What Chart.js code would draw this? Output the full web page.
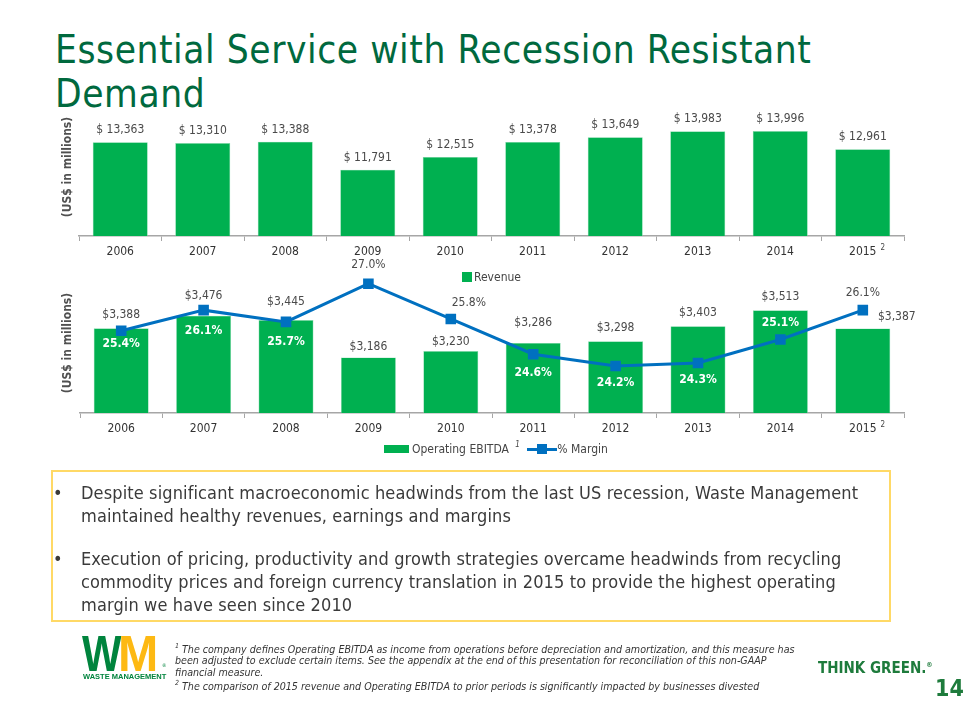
<!DOCTYPE html>
<html>
<head>
<meta charset="utf-8">
<script src="https://cdn.jsdelivr.net/npm/chart.js@4.4.1/dist/chart.umd.min.js"></script>
<style>
  html,body{margin:0;padding:0;background:#fff;}
  body{width:976px;height:711px;position:relative;overflow:hidden;font-family:"DejaVu Sans Condensed","DejaVu Sans",sans-serif;}
  canvas.c{position:absolute;left:0;top:0;}
  .title{position:absolute;left:55px;top:28px;color:#00693E;font-size:38.5px;letter-spacing:0.55px;line-height:44px;white-space:nowrap;}
  .ytitle{position:absolute;font-size:12px;font-weight:bold;color:#505050;white-space:nowrap;transform:translate(-50%,-50%) rotate(-90deg);}
  .leg{position:absolute;font-size:12px;color:#444;white-space:nowrap;}
  .box{position:absolute;left:51px;top:470px;width:836px;height:148px;border:2px solid #FFD966;}
  .bul{position:absolute;font-size:18px;letter-spacing:0.12px;color:#3a3a3a;line-height:23px;white-space:nowrap;}
  .foot{position:absolute;left:175px;top:641px;font-size:10.6px;font-style:italic;color:#333;line-height:11.5px;width:632px;}
</style>
</head>
<body>
<div class="title">Essential Service with Recession Resistant<br>Demand</div>

<canvas class="c" id="top" width="976" height="711"></canvas>
<canvas class="c" id="bot" width="976" height="711"></canvas>

<div class="ytitle" style="left:67px;top:167px;">(US$ in millions)</div>
<div class="ytitle" style="left:67px;top:343px;">(US$ in millions)</div>

<div class="leg" style="left:462px;top:270px;"><span style="display:inline-block;width:10px;height:10px;background:#00B050;vertical-align:-1px;margin-right:2px;"></span>Revenue</div>
<div class="leg" style="left:384px;top:440px;"><span style="display:inline-block;width:25px;height:8px;background:#00B050;vertical-align:0px;margin-right:3px;"></span>Operating EBITDA <sup style="font-size:8px;font-style:italic;vertical-align:6px;margin-left:3px;">1</sup>
<span style="display:inline-block;position:relative;width:30px;height:10px;vertical-align:-1px;margin-left:4px;"><span style="position:absolute;left:0;top:4px;width:30px;height:3px;background:#0070C0;"></span><span style="position:absolute;left:10px;top:0;width:10px;height:10px;background:#0070C0;"></span></span>% Margin</div>

<div class="box"></div>
<div class="bul" style="left:53px;top:481px;">•</div>
<div class="bul" style="left:81px;top:481px;">Despite significant macroeconomic headwinds from the last US recession, Waste Management<br>maintained healthy revenues, earnings and margins</div>
<div class="bul" style="left:53px;top:547px;">•</div>
<div class="bul" style="left:81px;top:547px;">Execution of pricing, productivity and growth strategies overcame headwinds from recycling<br>commodity prices and foreign currency translation in 2015 to provide the highest operating<br>margin we have seen since 2010</div>

<div style="position:absolute;left:82px;top:626px;width:84px;height:45px;">
  <span style="position:absolute;left:0;top:0;font-family:'Liberation Sans',sans-serif;font-weight:bold;font-size:44px;line-height:50px;color:#00843D;letter-spacing:-3px;transform:scale(0.95,1.12);transform-origin:left top;">W</span>
  <span style="position:absolute;left:36px;top:0;font-family:'Liberation Sans',sans-serif;font-weight:bold;font-size:44px;line-height:50px;color:#FDB913;transform:scale(1.1,1.12);transform-origin:left top;">M</span>
  <span style="position:absolute;left:80px;top:36px;font-size:5px;color:#00843D;">®</span>
</div>
<div style="position:absolute;left:83px;top:672px;font-family:'Liberation Sans',sans-serif;font-weight:bold;font-size:7.5px;color:#00843D;white-space:nowrap;">WASTE MANAGEMENT</div>

<div class="foot"><sup style="font-size:7px;">1</sup> The company defines Operating EBITDA as income from operations before depreciation and amortization, and this measure has been adjusted to exclude certain items. See the appendix at the end of this presentation for reconciliation of this non-GAAP financial measure.<br><sup style="font-size:7px;">2</sup> The comparison of 2015 revenue and Operating EBITDA to prior periods is significantly impacted by businesses divested</div>

<div style="position:absolute;left:818px;top:659px;font-family:'DejaVu Sans Condensed',sans-serif;font-weight:bold;font-size:15px;color:#1E7B3C;white-space:nowrap;">THINK GREEN.<sup style="font-size:7px;">®</sup></div>
<div style="position:absolute;left:935px;top:675px;font-family:'DejaVu Sans Condensed',sans-serif;font-weight:bold;font-size:23px;color:#1E7B3C;">14</div>

<script>
// ---- data ----
const years = ['2006','2007','2008','2009','2010','2011','2012','2013','2014','2015'];
const revenue = [13363,13310,13388,11791,12515,13378,13649,13983,13996,12961];
const ebitda  = [3388,3476,3445,3186,3230,3286,3298,3403,3513,3387];
const margin  = [25.4,26.1,25.7,27.0,25.8,24.6,24.2,24.3,25.1,26.1];
const footnoteTick = 9; // index of category with superscript 2

const GREEN = '#00B050', BLUE = '#0070C0';
const FONT = '"DejaVu Sans Condensed","DejaVu Sans",sans-serif';
const fmt = v => v.toLocaleString('en-US');

// plugin: draws value labels from element positions
const labelPlugin = {
  id: 'vlabels',
  afterDatasetsDraw(chart, args, opts) {
    const ctx = chart.ctx;
    ctx.save();
    ctx.textAlign = 'center';
    ctx.textBaseline = 'middle';
    (opts.sets || []).forEach(s => {
      const meta = chart.getDatasetMeta(s.dataset);
      const data = chart.data.datasets[s.dataset].data;
      meta.data.forEach((el, i) => {
        const off = s.offsets[i];
        const white = s.white && s.white[i];
        ctx.font = (white ? 'bold ' : '') + '12px ' + FONT;
        ctx.fillStyle = white ? '#ffffff' : '#4a4a4a';
        ctx.fillText(s.format(data[i]), el.x + off[0], el.y + off[1]);
      });
    });
    // superscript on tick
    const xs = chart.scales.x;
    const xp = xs.getPixelForValue(footnoteTick);
    ctx.font = '8px ' + FONT;
    ctx.fillStyle = '#444';
    ctx.fillText('2', xp + 20, xs.top + 12);
    ctx.restore();
  }
};

const xScale = () => ({
  grid: { offset: true, drawOnChartArea: false, tickLength: 5, color: '#A6A6A6' },
  border: { color: '#A6A6A6', width: 1.5 },
  ticks: { font: { size: 12, family: FONT }, color: '#333', padding: 4 },
  afterFit: s => { s.height = 20; }
});

new Chart(document.getElementById('top'), {
  type: 'bar',
  data: {
    labels: years,
    datasets: [{ label: 'Revenue', data: revenue, backgroundColor: GREEN, borderColor: '#7fd8a7', borderWidth: 0.6,
      barPercentage: 0.667, categoryPercentage: 1 }]
  },
  options: {
    responsive: false, animation: false,
    layout: { padding: { left: 79, right: 72, top: 110, bottom: 455 } },
    plugins: {
      legend: { display: false }, tooltip: { enabled: false },
      vlabels: { sets: [{ dataset: 0, format: v => '$ ' + fmt(v),
        offsets: years.map(() => [0, -12]) }] }
    },
    scales: {
      x: xScale(),
      y: { display: false, min: 8000, max: 15200 }
    }
  },
  plugins: [labelPlugin]
});

new Chart(document.getElementById('bot'), {
  type: 'bar',
  data: {
    labels: years,
    datasets: [
      { type: 'line', label: '% Margin', data: margin, yAxisID: 'y1', borderColor: BLUE, backgroundColor: BLUE,
        borderWidth: 3, pointStyle: 'rect', pointRadius: 7.5, pointBorderWidth: 0, tension: 0, order: 0 },
      { label: 'Operating EBITDA', data: ebitda, yAxisID: 'y', backgroundColor: GREEN, borderColor: '#7fd8a7', borderWidth: 0.6,
        barPercentage: 0.667, categoryPercentage: 1, order: 1 }
    ]
  },
  options: {
    responsive: false, animation: false,
    layout: { padding: { left: 80, right: 72, top: 269, bottom: 278 } },
    plugins: {
      legend: { display: false }, tooltip: { enabled: false },
      vlabels: { sets: [
        { dataset: 1, format: v => '$' + fmt(v),
          offsets: [[0,-13],[0,-20],[0,-18],[0,-11],[0,-9],[0,-20],[0,-13],[0,-13],[0,-13],[34,-12]] },
        { dataset: 0, format: v => v.toFixed(1) + '%',
          offsets: [[0,13],[0,21],[0,20],[0,-19],[18,-16],[0,19],[0,17],[0,17],[0,-17],[0,-17]],
          white: [1,1,1,0,0,1,1,1,1,0] }
      ] }
    },
    scales: {
      x: xScale(),
      y: { display: false, min: 2800, max: 3800 },
      y1: { display: false, min: 22.6, max: 27.5 }
    }
  },
  plugins: [labelPlugin]
});
</script>
</body>
</html>
